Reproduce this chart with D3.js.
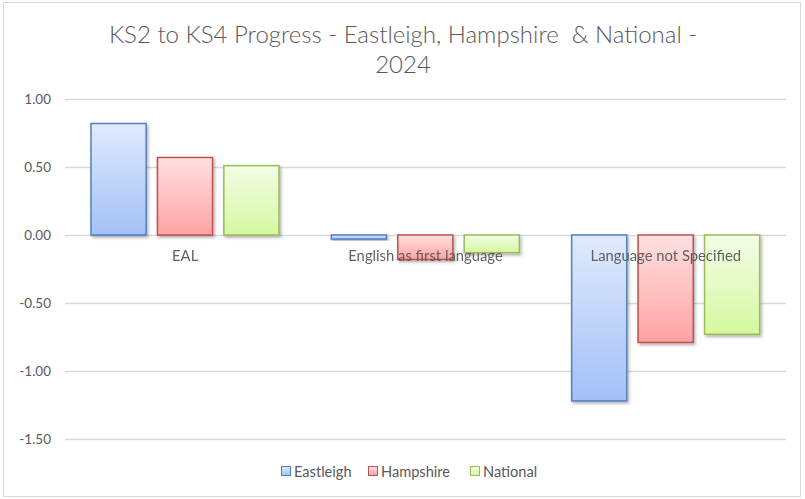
<!DOCTYPE html>
<html><head><meta charset="utf-8">
<script src="https://cdn.jsdelivr.net/npm/d3@7"></script>
<style>body{margin:0;background:#fff;}svg{display:block;font-family:Lato,"Open Sans",sans-serif;}</style>
</head><body><svg id="c" width="805" height="499"></svg>
<script>
const categories = ["EAL", "English as first language", "Language not Specified"];
const seriesNames = ["Eastleigh", "Hampshire", "National"];
const eastleigh = [0.82, -0.03, -1.22];
const hampshire = [0.57, -0.18, -0.79];
const national = [0.51, -0.13, -0.73];
const yTicks = [1.0, 0.5, 0.0, -0.5, -1.0, -1.5];
const titleLines = ["KS2 to KS4 Progress - Eastleigh, Hampshire  & National -", "2024"];

const series = [eastleigh, hampshire, national];
const colors = [
  {top:"#e0eafe", bot:"#a3c0f6", stroke:"#4f81bd"},
  {top:"#ffe0e0", bot:"#ffa3a3", stroke:"#c0504d"},
  {top:"#f3fde6", bot:"#d5f8a0", stroke:"#9bbb59"}
];

const svg = d3.select("#c");
const defs = svg.append("defs");
colors.forEach((c,i)=>{
  const g = defs.append("linearGradient").attr("id","g"+i).attr("x1",0).attr("y1",0).attr("x2",0).attr("y2",1);
  g.append("stop").attr("offset","0%").attr("stop-color",c.top);
  g.append("stop").attr("offset","100%").attr("stop-color",c.bot);
});
const f = defs.append("filter").attr("id","sh").attr("x","-20%").attr("y","-20%").attr("width","150%").attr("height","150%");
f.append("feDropShadow").attr("dx",1.5).attr("dy",2).attr("stdDeviation",1.5).attr("flood-color","#000").attr("flood-opacity",0.3);

// outer border
svg.append("rect").attr("x",3.5).attr("y",2.5).attr("width",797).attr("height",494)
  .attr("fill","#fff").attr("stroke","#d9d9d9");

const y = d3.scaleLinear().domain([-1.5, 1.0]).range([439, 99]);
const x0 = d3.scaleBand().domain(categories).range([65, 786]).paddingInner(0).paddingOuter(0);
const x1 = d3.scaleBand().domain(seriesNames).range([26, 214]).paddingInner(0.17);

// title
svg.append("g").selectAll("text").data(titleLines).join("text")
  .attr("x",403).attr("y",(d,i)=>43+i*30).attr("text-anchor","middle")
  .style("white-space","pre").attr("font-weight",300)
  .attr("font-size",24).attr("fill","#595959").text(d=>d);

// gridlines
const ga = svg.append("g").attr("transform","translate(65,0)")
  .call(d3.axisLeft(y).tickValues(yTicks).tickSize(-721).tickFormat(d3.format(".2f")).tickPadding(14));
ga.select(".domain").remove();
ga.selectAll(".tick line").attr("stroke","#d9d9d9").attr("stroke-width",1.3);
ga.selectAll(".tick text").attr("fill","#595959").attr("font-size",13.5).attr("font-family","Lato,'Open Sans',sans-serif");
ga.selectAll(".tick text").text(d=> d<0 ? "-"+d3.format(".2f")(-d) : d3.format(".2f")(d));

// bars
const groups = svg.append("g").selectAll("g").data(categories).join("g")
  .attr("transform",d=>`translate(${x0(d)},0)`);
groups.selectAll("rect").data((d,ci)=>series.map((s,si)=>({si, v:s[ci]}))).join("rect")
  .attr("x",d=>x1(seriesNames[d.si]))
  .attr("width",x1.bandwidth())
  .attr("y",d=>y(Math.max(0,d.v)))
  .attr("height",d=>Math.abs(y(d.v)-y(0)))
  .attr("fill",d=>`url(#g${d.si})`)
  .attr("stroke",d=>colors[d.si].stroke).attr("stroke-width",1.5)
  .attr("filter","url(#sh)");

// category labels
svg.append("g").selectAll("text").data(categories).join("text")
  .attr("x",d=>x0(d)+x0.bandwidth()/2).attr("y",y(0)+26).attr("text-anchor","middle")
  .attr("font-size",14.8).attr("fill","#595959").attr("opacity",0.95).text(d=>d);

// legend
const legX = [281, 368, 470];
const leg = svg.append("g").selectAll("g").data(seriesNames).join("g")
  .attr("transform",(d,i)=>`translate(${legX[i]},466)`);
leg.append("rect").attr("x",0.5).attr("y",0.5).attr("width",9).attr("height",9)
  .attr("fill",(d,i)=>`url(#g${i})`).attr("stroke",(d,i)=>colors[i].stroke);
leg.append("text").attr("x",13).attr("y",10.5).attr("font-size",14.6).attr("fill","#595959").text(d=>d);
</script></body></html>
